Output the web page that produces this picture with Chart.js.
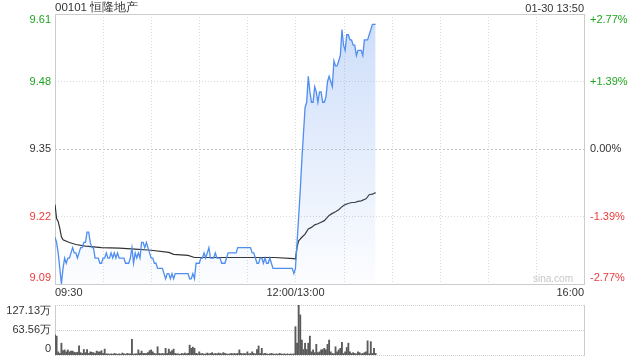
<!DOCTYPE html>
<html>
<head>
<meta charset="utf-8">
<script src="https://cdn.jsdelivr.net/npm/chart.js@4.4.1/dist/chart.umd.min.js"></script>
<style>
  body { margin: 0; width: 640px; height: 360px; background: #fff; position: relative; overflow: hidden;
         font-family: "Liberation Sans", Arial, sans-serif; }
  canvas { position: absolute; left: 0; }
  #price { top: 0; }
  #vol { top: 300px; }
  .txt { position: absolute; font-size: 11px; line-height: 14px; color: #333; white-space: nowrap; }
  #title { left: 55px; top: 0; font-size: 11.5px; }
  #clock { right: 56px; top: 1px; }
  #mark { right: 67px; top: 272px; font-size: 10px; color: #c8c8c8; }
</style>
</head>
<body>
<canvas id="price" width="640" height="300"></canvas>
<canvas id="vol" width="640" height="60"></canvas>
<div id="title" class="txt">00101 恒隆地产</div>
<div id="clock" class="txt">01-30 13:50</div>
<div id="mark" class="txt">sina.com</div>
<script>
// previous close and axis ticks
const prevClose = 9.35;
const priceTicks = [9.61, 9.48, 9.35, 9.22, 9.09];
const pctLabels = ['+2.77%', '+1.39%', '0.00%', '-1.39%', '-2.77%'];
const timeTickMinutes = [0, 150, 330];
const timeTickLabels = ['09:30', '12:00/13:00', '16:00'];
const volTicks = [127.13, 63.56, 0];
const volTickLabels = ['127.13万', '63.56万', '0'];

// one price per trading minute, 09:30 .. 13:50
const prices = [
  9.18, 9.17, 9.15, 9.12, 9.09, 9.12, 9.14, 9.13, 9.14, 9.14,
  9.15, 9.16, 9.15, 9.15, 9.14, 9.15, 9.16, 9.16, 9.17, 9.17,
  9.19, 9.19, 9.17, 9.16, 9.16, 9.14, 9.14, 9.14, 9.13, 9.13,
  9.14, 9.14, 9.15, 9.14, 9.14, 9.15, 9.14, 9.15, 9.14, 9.15,
  9.14, 9.14, 9.14, 9.14, 9.13, 9.13, 9.13, 9.14, 9.16, 9.13,
  9.15, 9.14, 9.15, 9.14, 9.17, 9.17, 9.16, 9.17, 9.16, 9.15,
  9.14, 9.14, 9.13, 9.13, 9.12, 9.12, 9.12, 9.12, 9.11, 9.10,
  9.11, 9.11, 9.10, 9.11, 9.10, 9.11, 9.11, 9.11, 9.11, 9.11,
  9.11, 9.11, 9.11, 9.11, 9.10, 9.10, 9.11, 9.10, 9.13, 9.13,
  9.13, 9.14, 9.14, 9.15, 9.14, 9.15, 9.16, 9.14, 9.14, 9.14,
  9.15, 9.14, 9.14, 9.14, 9.13, 9.13, 9.13, 9.14, 9.15, 9.15,
  9.15, 9.15, 9.15, 9.15, 9.16, 9.16, 9.16, 9.16, 9.16, 9.16,
  9.16, 9.16, 9.16, 9.15, 9.15, 9.14, 9.13, 9.13, 9.14, 9.14,
  9.13, 9.14, 9.13, 9.13, 9.14, 9.13, 9.12, 9.12, 9.12, 9.12,
  9.12, 9.12, 9.12, 9.12, 9.12, 9.12, 9.12, 9.12, 9.12, 9.11,
  9.12, 9.17, 9.22, 9.27, 9.33, 9.38, 9.43, 9.44, 9.49, 9.46,
  9.44, 9.44, 9.47, 9.46, 9.44, 9.46, 9.46, 9.44, 9.44, 9.45,
  9.48, 9.49, 9.48, 9.47, 9.52, 9.51, 9.51, 9.52, 9.53, 9.58,
  9.55, 9.54, 9.57, 9.57, 9.56, 9.56, 9.55, 9.55, 9.53, 9.54,
  9.54, 9.54, 9.53, 9.56, 9.56, 9.56, 9.57, 9.58, 9.59, 9.59,
  9.59
];

// average price line, read at the minutes where it bends
const avgMinutes = [0, 1, 2, 3, 4, 5, 9, 13, 19, 29, 40, 50, 60, 71, 74, 83, 87, 137, 149,
  150, 151, 152, 154, 156, 158, 160, 162, 164, 166, 168, 171, 173, 175, 177, 179, 181,
  183, 185, 187, 189, 191, 194, 196, 198, 200];
const avgPrices = [9.243, 9.216, 9.21, 9.197, 9.181, 9.175, 9.170, 9.166, 9.163, 9.160,
  9.159, 9.157, 9.155, 9.151, 9.147, 9.145, 9.141, 9.141, 9.139,
  9.138, 9.161, 9.173, 9.180, 9.186, 9.196, 9.199, 9.204, 9.206, 9.209, 9.212, 9.222,
  9.226, 9.229, 9.233, 9.239, 9.243, 9.245, 9.247, 9.247, 9.249, 9.250, 9.254, 9.262,
  9.263, 9.266];

// volume per minute, in 万 shares
const volumes = [
  51, 48, 8, 4, 30, 11, 13, 8, 13, 8,
  10, 10, 7, 6, 7, 23, 6, 4, 14, 6,
  14, 4, 8, 7, 6, 4, 10, 8, 8, 11,
  4, 15, 3, 3, 2, 3, 2, 4, 3, 2,
  3, 2, 5, 3, 2, 4, 3, 3, 40, 2,
  3, 3, 13, 4, 10, 4, 4, 4, 6, 11,
  13, 8, 4, 3, 21, 4, 3, 4, 3, 17,
  4, 15, 8, 11, 15, 4, 3, 3, 2, 4,
  3, 5, 3, 4, 25, 17, 20, 17, 4, 3,
  8, 3, 4, 2, 3, 5, 3, 4, 6, 3,
  4, 3, 5, 4, 3, 6, 4, 3, 2, 3,
  4, 3, 4, 3, 4, 13, 4, 3, 4, 3,
  8, 3, 4, 8, 4, 3, 14, 23, 4, 17,
  3, 4, 3, 2, 3, 4, 3, 2, 3, 2,
  4, 3, 2, 3, 2, 3, 2, 3, 2, 3,
  72, 30, 127.13, 102, 38, 14, 30, 14, 30, 48,
  8, 13, 6, 27, 6, 8, 13, 14, 17, 13,
  27, 38, 8, 4, 3, 21, 8, 13, 17, 32,
  4, 8, 19, 30, 8, 4, 6, 4, 3, 8,
  6, 3, 4, 6, 8, 36, 3, 34, 4, 17,
  4
];

const FONT = '11px "Liberation Sans", Arial, sans-serif';
const UP = '#1fa51f';
const DOWN = '#f03a3a';
const TOTAL_MIN = 330;

const crisp = v => Math.round(v) + 0.5;
function hLine(ctx, y, x1, x2) { ctx.beginPath(); ctx.moveTo(x1, y); ctx.lineTo(x2, y); ctx.stroke(); }
function vLine(ctx, x, y1, y2) { ctx.beginPath(); ctx.moveTo(x, y1); ctx.lineTo(x, y2); ctx.stroke(); }

// grid, frame and tick labels of the price panel
const priceFrame = {
  id: 'priceFrame',
  beforeDatasetsDraw(chart) {
    const { ctx, chartArea: a, scales: { x, y } } = chart;
    ctx.save();
    ctx.lineWidth = 1;
    ctx.strokeStyle = '#d8d8d8';
    ctx.setLineDash([1, 2]);
    for (let m = 30; m < TOTAL_MIN; m += 30) vLine(ctx, crisp(x.getPixelForValue(m)), a.top, a.bottom);
    priceTicks.forEach(v => {
      if (v < y.max && v > y.min && v !== prevClose) hLine(ctx, crisp(y.getPixelForValue(v)), a.left, a.right);
    });
    ctx.strokeStyle = '#c6c6c6';
    ctx.setLineDash([2, 2]);
    hLine(ctx, crisp(y.getPixelForValue(prevClose)), a.left, a.right);
    ctx.setLineDash([]);
    ctx.strokeStyle = '#cccccc';
    ctx.strokeRect(a.left + 0.5, a.top + 0.5, a.right - a.left, a.bottom - a.top);
    ctx.restore();
  },
  afterDraw(chart) {
    const { ctx, chartArea: a, scales: { x, y } } = chart;
    ctx.save();
    ctx.font = FONT;
    ctx.textBaseline = 'middle';
    priceTicks.forEach((v, i) => {
      let py = y.getPixelForValue(v);
      if (i === 0) py += 6;
      else if (i === priceTicks.length - 1) py -= 6;
      ctx.fillStyle = v > prevClose ? UP : (v < prevClose ? DOWN : '#333');
      ctx.textAlign = 'right';
      ctx.fillText(v.toFixed(2), a.left - 4, py);
      ctx.textAlign = 'left';
      ctx.fillText(pctLabels[i], a.right + 6, py);
    });
    ctx.fillStyle = '#333';
    timeTickMinutes.forEach((m, i) => {
      ctx.textAlign = i === 0 ? 'left' : (i === timeTickMinutes.length - 1 ? 'right' : 'center');
      ctx.fillText(timeTickLabels[i], x.getPixelForValue(m), a.bottom + 9);
    });
    ctx.restore();
  }
};

const volFrame = {
  id: 'volFrame',
  beforeDatasetsDraw(chart) {
    const { ctx, chartArea: a, scales: { y } } = chart;
    ctx.save();
    ctx.lineWidth = 1;
    ctx.strokeStyle = '#cfcfcf';
    ctx.setLineDash([1, 1]);
    volTicks.forEach(v => hLine(ctx, crisp(y.getPixelForValue(v)), a.left, a.right));
    ctx.setLineDash([]);
    ctx.strokeStyle = '#cccccc';
    vLine(ctx, a.left + 0.5, a.top, a.bottom + 1);
    vLine(ctx, a.right + 0.5, a.top, a.bottom + 1);
    ctx.restore();
  },
  afterDraw(chart) {
    const { ctx, chartArea: a, scales: { y } } = chart;
    ctx.save();
    ctx.font = FONT;
    ctx.textBaseline = 'middle';
    ctx.textAlign = 'right';
    ctx.fillStyle = '#333';
    volTicks.forEach((v, i) => {
      let py = y.getPixelForValue(v);
      if (i === 0) py += 6;
      else if (i === volTicks.length - 1) py -= 6;
      ctx.fillText(volTickLabels[i], a.left - 4, py);
    });
    ctx.restore();
  }
};

const baseOpts = {
  responsive: false,
  animation: false,
  events: [],
  plugins: { legend: { display: false }, tooltip: { enabled: false } }
};

new Chart(document.getElementById('price'), {
  type: 'line',
  data: {
    datasets: [
      {
        data: prices.map((p, i) => ({ x: i, y: p })),
        borderColor: '#4f8ef0',
        borderWidth: 1.3,
        pointRadius: 0,
        tension: 0,
        fill: 'start',
        backgroundColor(c) {
          const a = c.chart.chartArea;
          if (!a) return 'rgba(0,0,0,0)';
          const g = c.chart.ctx.createLinearGradient(0, a.top, 0, a.bottom);
          g.addColorStop(0, 'rgba(120,165,240,0.38)');
          g.addColorStop(1, 'rgba(120,165,240,0.02)');
          return g;
        }
      },
      {
        data: avgMinutes.map((m, i) => ({ x: m, y: avgPrices[i] })),
        borderColor: '#333333',
        borderWidth: 1.2,
        pointRadius: 0,
        tension: 0,
        fill: false
      }
    ]
  },
  options: {
    ...baseOpts,
    layout: { padding: { left: 55, right: 56, top: 14, bottom: 16 } },
    scales: {
      x: { type: 'linear', min: 0, max: TOTAL_MIN, display: false },
      y: { min: priceTicks[priceTicks.length - 1], max: priceTicks[0], display: false }
    }
  },
  plugins: [priceFrame]
});

new Chart(document.getElementById('vol'), {
  type: 'bar',
  data: {
    datasets: [{
      data: volumes.map((v, i) => ({ x: i, y: v })),
      backgroundColor: '#5a5a5a',
      barThickness: 1.2
    }]
  },
  options: {
    ...baseOpts,
    layout: { padding: { left: 55, right: 56, top: 5, bottom: 5 } },
    scales: {
      x: { type: 'linear', min: 0, max: TOTAL_MIN, offset: false, display: false },
      y: { min: 0, max: volTicks[0], display: false }
    }
  },
  plugins: [volFrame]
});
</script>
</body>
</html>
